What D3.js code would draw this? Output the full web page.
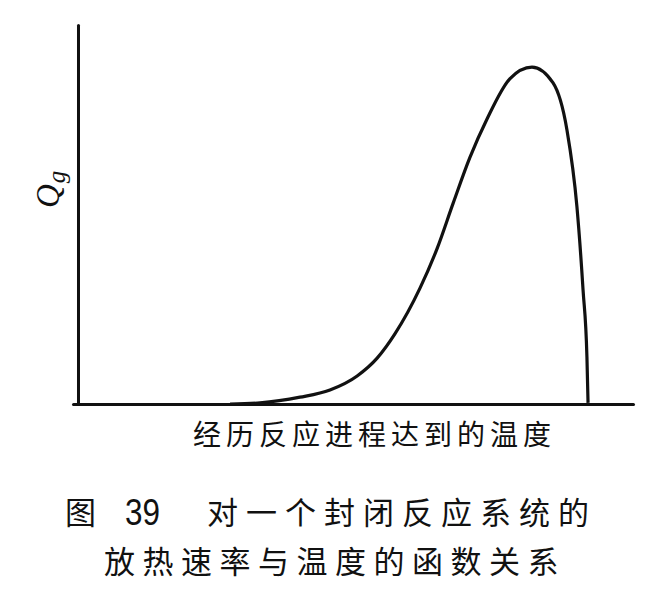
<!DOCTYPE html>
<html>
<head>
<meta charset="utf-8">
<script src="https://cdn.jsdelivr.net/npm/d3@7"></script>
<style>
  html, body { margin: 0; padding: 0; background: #fff; }
  svg { display: block; }
</style>
</head>
<body>
<svg id="chart" width="666" height="600"></svg>
<script>
// Temperature (arbitrary units) and heat-release rate Qg (arbitrary units)
const temperature = [27.4, 32.8, 40.0, 45.4, 50.3, 53.9, 57.1, 61.6, 64.7, 67.6, 70.6, 73.7, 77.8, 81.8, 85.6, 88.1, 89.9, 91.0, 91.7, 91.9];
const heatRate    = [0,    0.3,  1.8,  3.7,  7.4,  12.1, 18.5, 30.5, 41.0, 53.0, 65.0, 75.2, 85.8, 88.9, 84.7, 72.3, 52.0, 30.1, 12.4, 0.3];

const yLabelMain = "Q";
const yLabelSub = "g";
const xLabel = "经历反应进程达到的温度";
const captionFig = "图";
const captionNum = "39";
const captionLine1 = "对一个封闭反应系统的";
const captionLine2 = "放热速率与温度的函数关系";

const data = temperature.map((t, i) => ({ t, q: heatRate[i] }));

const svg = d3.select("#chart");
const x = d3.scaleLinear().domain([-0.9, 100]).range([73, 633]);
const y = d3.scaleLinear().domain([0, 100]).range([404, 25]);

const ink = "#111";

// x axis
const gx = svg.append("g").attr("transform", `translate(0,${y(0)})`)
  .call(d3.axisBottom(x).ticks(0).tickSizeOuter(0));
gx.select(".domain").attr("stroke", ink).attr("stroke-width", 3).attr("stroke-linecap", "round");

// y axis
const gy = svg.append("g").attr("transform", `translate(${x(0)},0)`)
  .call(d3.axisLeft(y).ticks(0).tickSizeOuter(0));
gy.select(".domain").attr("stroke", ink).attr("stroke-width", 3).attr("stroke-linecap", "round");

// curve
const line = d3.line().x(d => x(d.t)).y(d => y(d.q)).curve(d3.curveMonotoneX);
svg.append("path").datum(data)
  .attr("d", line)
  .attr("fill", "none")
  .attr("stroke", ink)
  .attr("stroke-width", 3.2)
  .attr("stroke-linejoin", "round");

// y label Qg (rotated)
const yl = svg.append("text")
  .attr("transform", "translate(59,208) rotate(-90)")
  .attr("font-family", "'Liberation Serif', 'DejaVu Serif', serif")
  .attr("font-style", "italic")
  .attr("fill", ink);
yl.append("tspan").attr("font-size", 33).text(yLabelMain);
yl.append("tspan").attr("font-size", 25).attr("dy", 6).attr("dx", 1).text(yLabelSub);

const cjk = "'Noto Sans CJK SC', 'Noto Sans CJK JP', sans-serif";

// x label
svg.append("text")
  .attr("x", 193).attr("y", 445)
  .attr("font-family", cjk)
  .attr("font-size", 28)
  .attr("letter-spacing", 5)
  .attr("fill", ink)
  .text(xLabel);

// caption line 1
svg.append("text")
  .attr("x", 65).attr("y", 524)
  .attr("font-family", cjk).attr("font-size", 31).attr("fill", ink)
  .text(captionFig);
svg.append("text")
  .attr("x", 125).attr("y", 525)
  .attr("font-family", "'Liberation Sans', Arial, sans-serif")
  .attr("font-size", 36)
  .attr("textLength", 35).attr("lengthAdjust", "spacingAndGlyphs")
  .attr("fill", ink)
  .text(captionNum);
svg.append("text")
  .attr("x", 207).attr("y", 524)
  .attr("font-family", cjk).attr("font-size", 31)
  .attr("letter-spacing", 8)
  .attr("fill", ink)
  .text(captionLine1);

// caption line 2
svg.append("text")
  .attr("x", 104).attr("y", 573)
  .attr("font-family", cjk).attr("font-size", 31)
  .attr("letter-spacing", 7.5)
  .attr("fill", ink)
  .text(captionLine2);
</script>
</body>
</html>
